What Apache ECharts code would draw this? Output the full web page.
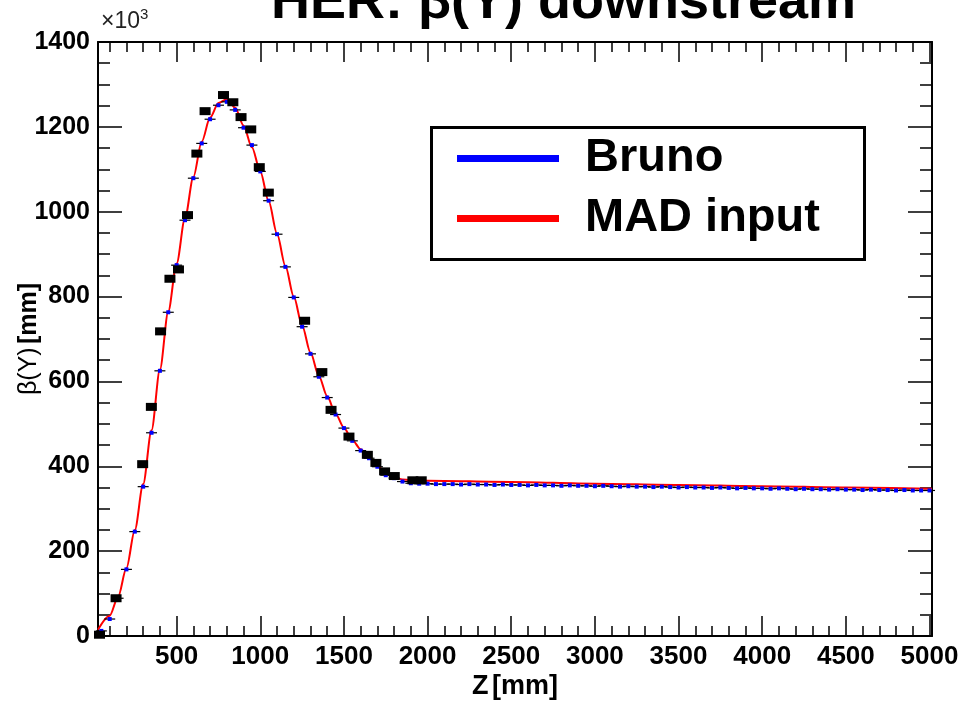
<!DOCTYPE html>
<html><head><meta charset="utf-8">
<script src="https://cdn.jsdelivr.net/npm/echarts@6/dist/echarts.min.js"></script>
<style>html,body{margin:0;padding:0;background:#fff}#c{width:961px;height:701px}</style>
</head><body><div id="c"></div>
<script>
// ---- data (beta in units of 10^3 mm) ----
const squareZ    = [39,138,297,349,404,460,511,565,621,670,780,836,885,943,994,1048,1265,1368,1423,1530,1640,1691,1743,1801,1912,1962];
const squareBeta = [3,89,405,540,718,842,864,992,1137,1237,1275,1258,1223,1194,1105,1045,743,622,533,470,427,408,388,377,367,367];

const brunoZ = [50,100,150,200,250,300,350,400,450,500,550,600,650,700,750,800,850,900,950,1000,
  1050,1100,1150,1200,1250,1300,1350,1400,1450,1500,1550,1600,1650,1700,1750,1800,1850,1900,1950,2000,
  2050,2100,2150,2200,2250,2300,2350,2400,2450,2500,2550,2600,2650,2700,2750,2800,2850,2900,2950,3000,
  3050,3100,3150,3200,3250,3300,3350,3400,3450,3500,3550,3600,3650,3700,3750,3800,3850,3900,3950,4000,
  4050,4100,4150,4200,4250,4300,4350,4400,4450,4500,4550,4600,4650,4700,4750,4800,4850,4900,4950,5000];
const brunoBeta = [12,40,89,157,246,352,479,625,763,874,980,1079,1161,1218,1251,1259,1240,1198,1157,1095,
  1026,947,870,798,729,665,611,562,522,490,460,437,419,399,379,372,364,360,359,359,
  358,358,358,357,358,357,357,356,357,356,356,355,356,355,355,354,355,354,354,353,
  354,353,352,353,352,352,351,352,351,350,351,350,350,349,350,349,348,349,348,348,
  347,348,347,346,347,346,346,345,346,345,345,344,345,344,344,343,344,343,343,343];

const madZ    = [30,100,150,200,250,300,350,400,450,500,550,600,650,700,750,800,850,900,950,1000,
  1050,1100,1150,1200,1250,1300,1350,1400,1450,1500,1550,1600,1650,1700,1750,1800,1850,1900,1950,2000,
  2500,3000,3500,4000,4500,5015];
const madBeta = [15,48,92,160,250,358,485,628,765,878,985,1082,1165,1222,1256,1265,1245,1203,1152,1095,
  1025,948,872,800,732,668,613,565,524,491,462,440,421,402,383,374,369,367,366,366,
  363,359,356,353,350,347];

const xMajorTicks = [500,1000,1500,2000,2500,3000,3500,4000,4500,5000];
const xMinorTicks = [100,200,300,400,600,700,800,900,1100,1200,1300,1400,1600,1700,1800,1900,
  2100,2200,2300,2400,2600,2700,2800,2900,3100,3200,3300,3400,3600,3700,3800,3900,
  4100,4200,4300,4400,4600,4700,4800,4900];

const FONT = '"Liberation Sans", Arial, Helvetica, sans-serif';
const pairs = (xs, ys) => xs.map((x, i) => [x, ys[i]]);
const plain = v => String(v);

const chart = echarts.init(document.getElementById('c'));
const xBase = {type: 'value', min: 30, max: 5015, splitLine: {show: false}};
const frame = {show: true, onZero: false, lineStyle: {color: '#000', width: 2}};
const tickStyle = {color: '#000', width: 1.5};

chart.setOption({
  animation: false,
  backgroundColor: '#fff',
  title: [
    {text: 'HER: β(Y) downstream', left: 266, top: -29,
     textStyle: {fontFamily: FONT, fontWeight: 'bold', fontSize: 54, color: '#000'}},
    {text: '{b|×10}{s|3}', left: 96, top: 2,
     textStyle: {fontWeight: 'normal', rich: {
       b: {fontFamily: FONT, fontWeight: 'normal', fontSize: 23, color: '#222', lineHeight: 26, verticalAlign: 'bottom'},
       s: {fontFamily: FONT, fontWeight: 'normal', fontSize: 15, color: '#222', lineHeight: 15, verticalAlign: 'top'}}}}
  ],
  grid: {left: 98, right: 29, top: 42, bottom: 65, containLabel: false, outerBoundsMode: 'none'},
  legend: {
    orient: 'vertical', left: 457, top: 135, padding: 0, itemGap: 13,
    itemWidth: 102, itemHeight: 7, selectedMode: false,
    data: [{name: 'Bruno', icon: 'rect', itemStyle: {color: '#0000ff', opacity: 1}},
           {name: 'MAD input', icon: 'rect', itemStyle: {color: '#ff0000', opacity: 1}}],
    textStyle: {fontFamily: FONT, fontWeight: 'bold', fontSize: 47, color: '#000',
                lineHeight: 47, padding: [0, 0, 0, 21]}
  },
  graphic: [{type: 'rect', left: 429, top: 125, z: 100,
    shape: {width: 433, height: 132},
    style: {fill: 'none', stroke: '#000', lineWidth: 3}}],
  xAxis: [
    Object.assign({}, xBase, {position: 'bottom', axisLine: frame,
      axisTick: {show: true, inside: true, length: 20, lineStyle: tickStyle, customValues: xMajorTicks},
      axisLabel: {customValues: xMajorTicks, formatter: plain, margin: 8, fontFamily: FONT, fontWeight: 'bold', fontSize: 26, color: '#000'},
      name: '{z|Z} {u|[mm]}', nameLocation: 'middle', nameGap: 37, nameMoveOverlap: false,
      nameTextStyle: {rich: {
        z: {fontFamily: FONT, fontWeight: 'bold', fontSize: 27, color: '#000'},
        u: {fontFamily: FONT, fontWeight: 'bold', fontSize: 27, color: '#000'}}}}),
    Object.assign({}, xBase, {position: 'bottom', axisLine: {show: false, onZero: false},
      axisTick: {show: true, inside: true, length: 10, lineStyle: tickStyle, customValues: xMinorTicks},
      axisLabel: {show: false}}),
    Object.assign({}, xBase, {position: 'top', axisLine: frame,
      axisTick: {show: true, inside: true, length: 20, lineStyle: tickStyle, customValues: xMajorTicks},
      axisLabel: {show: false}}),
    Object.assign({}, xBase, {position: 'top', axisLine: {show: false, onZero: false},
      axisTick: {show: true, inside: true, length: 10, lineStyle: tickStyle, customValues: xMinorTicks},
      axisLabel: {show: false}})
  ],
  yAxis: [
    {type: 'value', min: 0, max: 1400, interval: 200, position: 'left', axisLine: frame,
     axisTick: {show: true, inside: true, length: 24, lineStyle: tickStyle},
     minorTick: {show: true, splitNumber: 4, length: 12, lineStyle: tickStyle},
     splitLine: {show: false},
     axisLabel: {formatter: plain, margin: 8, fontFamily: FONT, fontWeight: 'bold', fontSize: 25, color: '#000'},
     name: '{a|β(Y)} {b|[mm]}', nameLocation: 'middle', nameGap: 56, nameRotate: 90, nameMoveOverlap: false,
     nameTextStyle: {rich: {
       a: {fontFamily: FONT, fontSize: 25, color: '#000'},
       b: {fontFamily: FONT, fontWeight: 'bold', fontSize: 25, color: '#000'}}}},
    {type: 'value', min: 0, max: 1400, interval: 200, position: 'right', axisLine: frame,
     axisTick: {show: true, inside: true, length: 24, lineStyle: tickStyle},
     minorTick: {show: true, splitNumber: 4, length: 12, lineStyle: tickStyle},
     splitLine: {show: false}, axisLabel: {show: false}}
  ],
  series: [
    {name: 'MAD input', type: 'line', data: pairs(madZ, madBeta), symbol: 'none', showSymbol: false,
     smooth: 0.3, smoothMonotone: 'x', lineStyle: {color: '#ff0000', width: 2, opacity: 1},
     itemStyle: {color: '#ff0000', opacity: 1}, z: 2},
    {name: 'Bruno err', type: 'scatter', data: pairs(brunoZ, brunoBeta), symbol: 'rect',
     symbolSize: [11, 1.2], itemStyle: {color: '#000', opacity: 1}, z: 3},
    {name: 'Bruno', type: 'scatter', data: pairs(brunoZ, brunoBeta), symbol: 'rect',
     symbolSize: [4, 4], itemStyle: {color: '#0000ff', opacity: 1}, z: 4},
    {name: 'Measured', type: 'scatter', data: pairs(squareZ, squareBeta), symbol: 'rect',
     symbolSize: [11, 8], itemStyle: {color: '#000', opacity: 1}, z: 5}
  ]
});
</script>
</body></html>
